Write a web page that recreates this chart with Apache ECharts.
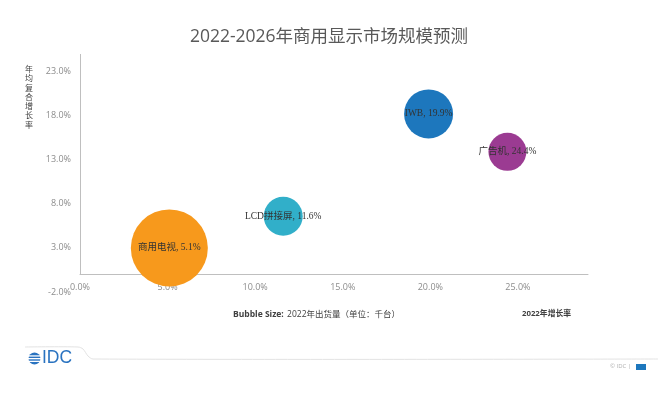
<!DOCTYPE html>
<html><head><meta charset="utf-8">
<script src="https://cdn.jsdelivr.net/npm/echarts@6/dist/echarts.min.js"></script>
<style>html,body{margin:0;padding:0;background:#fff}#c{width:658px;height:396px}</style>
</head><body><div id="c"></div>
<script>
const categories = ['商用电视', 'LCD拼接屏', 'IWB', '广告机'];
const growth2022 = [5.1, 11.6, 19.9, 24.4];
const cagr = [3.0, 6.6, 18.2, 13.9];
const shipments = [3000, 770, 1215, 730];
const xTicks = [0, 5, 10, 15, 20, 25];
const yTicks = [-2, 3, 8, 13, 18, 23];
const X_MIN = 0, X_MAX = 29, Y_MIN = -2, Y_MAX = 25;

const colors = ['#F7991C', '#31AFC9', '#1D77BD', '#9B3B92'];
const maxShip = Math.max(...shipments);
const chart = echarts.init(document.getElementById('c'), null, {renderer: 'canvas'});
const lblFont = '"Liberation Serif","Noto Sans CJK SC",serif';
const axFont = '"Open Sans","Noto Sans CJK SC",sans-serif';

chart.setOption({
  animation: false,
  backgroundColor: '#fff',
  title: {
    text: '2022-2026年商用显示市场规模预测',
    left: 'center', top: 23,
    textStyle: {fontSize: 17.5, fontWeight: 'normal', color: '#595959', fontFamily: axFont}
  },
  grid: {left: 80, right: 70, top: 54, bottom: 104, containLabel: false},
  xAxis: {
    type: 'value', min: X_MIN, max: X_MAX,
    axisLine: {show: true, onZero: true, lineStyle: {color: '#BFBFBF', width: 1}},
    axisTick: {show: false},
    splitLine: {show: false},
    axisLabel: {
      customValues: xTicks, margin: -9,
      formatter: v => v.toFixed(1) + '%',
      color: '#8C8C8C', fontSize: 9, fontFamily: axFont
    }
  },
  yAxis: {
    type: 'value', min: Y_MIN, max: Y_MAX,
    axisLine: {show: false},
    axisTick: {show: false},
    splitLine: {show: false},
    axisLabel: {
      customValues: yTicks, margin: 9,
      formatter: v => v.toFixed(1) + '%',
      color: '#8C8C8C', fontSize: 9, fontFamily: axFont
    }
  },
  series: [{
    type: 'scatter',
    data: categories.map((n, i) => ({
      name: n,
      value: [growth2022[i], cagr[i], shipments[i]],
      itemStyle: {color: colors[i], opacity: 1}
    })),
    symbolSize: v => Math.sqrt(v[2] / maxShip) * 77,
    label: {
      show: true, position: 'inside',
      formatter: p => p.name + ', ' + p.value[0].toFixed(1) + '%',
      color: '#333333', fontSize: 9.5, fontFamily: lblFont
    },
    markLine: {
      silent: true, symbol: 'none', label: {show: false},
      lineStyle: {color: '#BFBFBF', width: 1, type: 'solid'},
      data: [[{coord: [X_MIN, 0]}, {coord: [X_MIN, Y_MAX]}]]
    }
  }],
  graphic: [
    {type: 'text', left: 25, top: 65,
     style: {text: '年\n均\n复\n合\n增\n长\n率', fontSize: 8, lineHeight: 9.3, fill: '#404040', fontFamily: axFont}},
    {type: 'text', left: 233, top: 309,
     style: {
       text: '{b|Bubble Size:} {n|2022年出货量（单位：千台）}',
       rich: {
         b: {fontSize: 8.5, fontWeight: 'bold', fill: '#404040', fontFamily: axFont},
         n: {fontSize: 8.5, fill: '#404040', fontFamily: axFont}
       }
     }},
    {type: 'text', left: 522, top: 310,
     style: {text: '2022年增长率', fontSize: 7.8, fontWeight: 'bold', fill: '#404040', fontFamily: axFont}},
    {type: 'polyline', silent: true,
     shape: {points: [[25, 347], [78, 347], [83, 349], [88, 356], [93, 359], [658, 359]], smooth: 0.3},
     style: {stroke: '#E3E3E3', lineWidth: 1, fill: null}},
    {type: 'circle', shape: {cx: 34.5, cy: 358.5, r: 6}, style: {fill: '#2A73C0'}},
    {type: 'rect', shape: {x: 27, y: 355.3, width: 15, height: 1.3}, style: {fill: '#fff'}},
    {type: 'rect', shape: {x: 27, y: 358, width: 15, height: 1.3}, style: {fill: '#fff'}},
    {type: 'rect', shape: {x: 27, y: 360.7, width: 15, height: 1.3}, style: {fill: '#fff'}},
    {type: 'text', left: 42, top: 349,
     style: {text: 'IDC', fontSize: 17.5, fill: '#2A73C0', fontFamily: '"Liberation Sans",Arial,sans-serif', fontWeight: 'normal'}},
    {type: 'text', left: 610, top: 363,
     style: {text: '© IDC |', fontSize: 6, fill: '#B0B0B0', fontFamily: axFont}},
    {type: 'rect', shape: {x: 636, y: 364, width: 10, height: 6}, style: {fill: '#1D77BD'}}
  ]
});
</script></body></html>
